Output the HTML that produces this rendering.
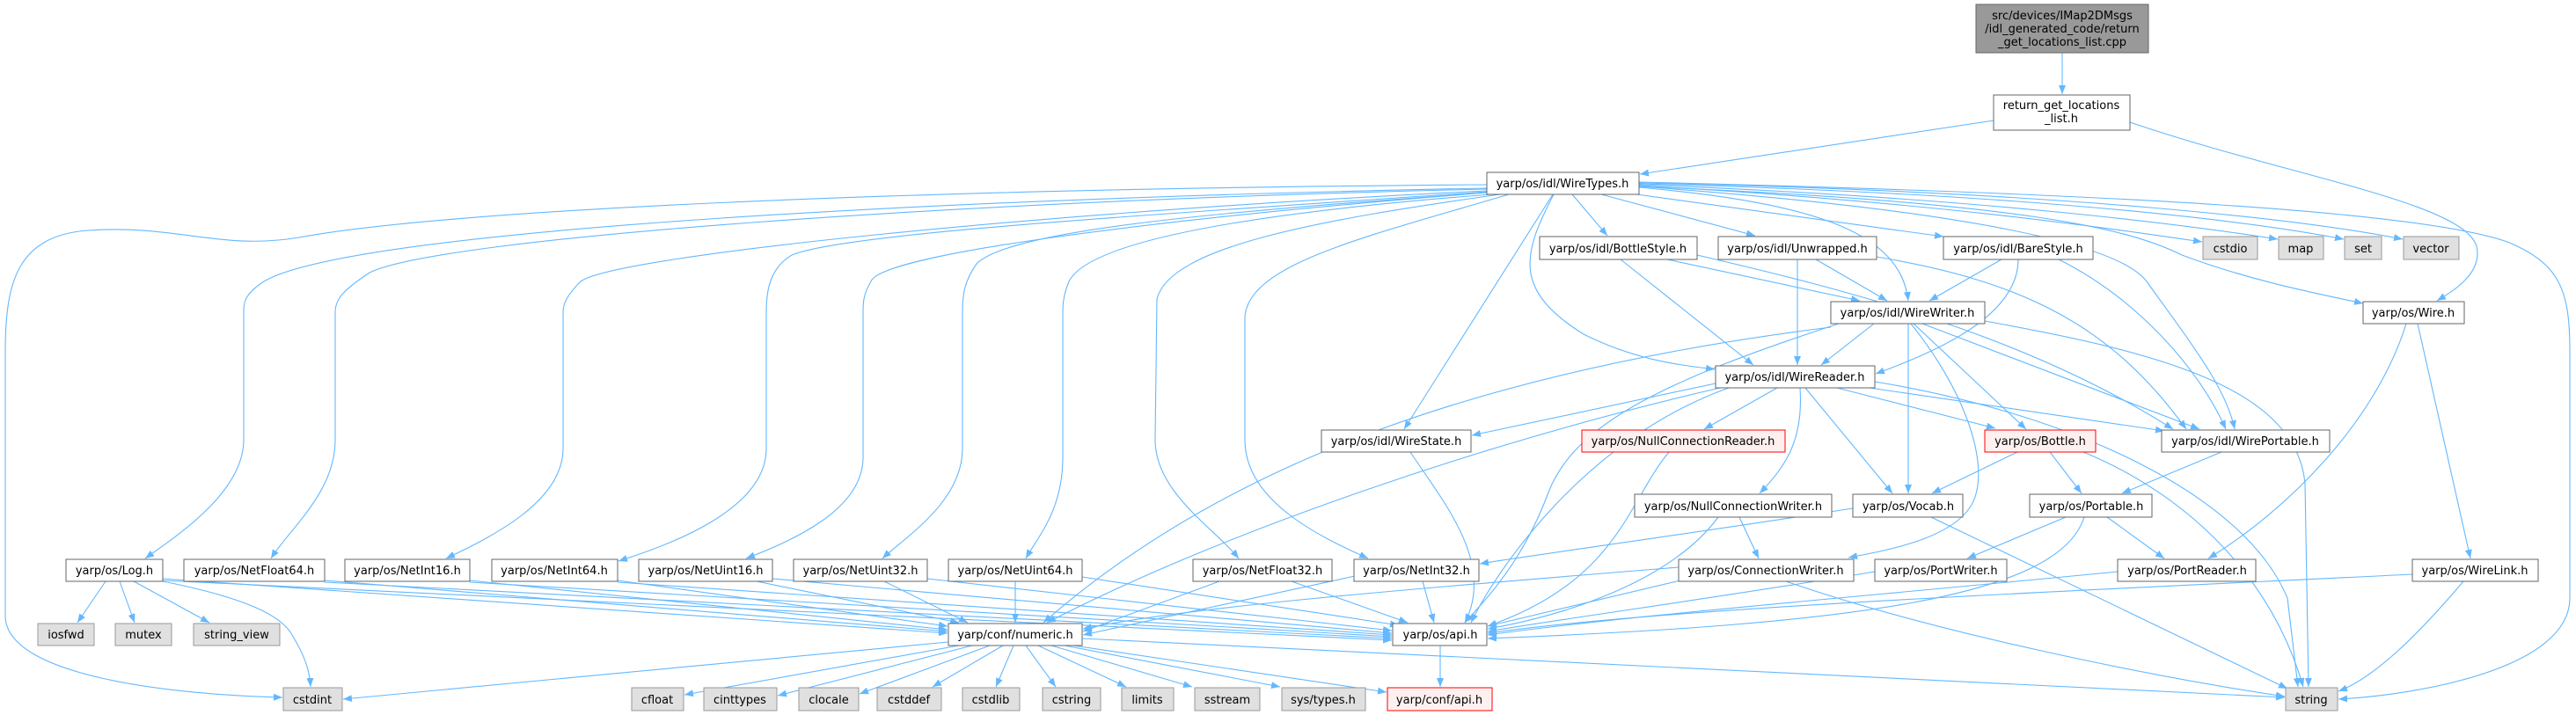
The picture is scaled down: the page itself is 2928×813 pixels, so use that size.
<!DOCTYPE html>
<html><head><meta charset="utf-8"><style>
html,body{margin:0;padding:0;background:#fff;}
svg{display:block;}
text{font-family:"DejaVu Sans","Liberation Sans",sans-serif;font-size:13px;fill:#000;text-anchor:middle;}
.e{fill:none;stroke:#63b8ff;stroke-width:1.1;marker-end:url(#a);}
.n{fill:#fff;stroke:#666;stroke-width:1;}
.g{fill:#e0e0e0;stroke:#999;stroke-width:1;}
.r{fill:#fff0f0;stroke:#f00;stroke-width:1;}
.t{fill:#999;stroke:#666;stroke-width:1;}
</style></head><body>
<svg width="2928" height="813" viewBox="0 0 2928 813" xmlns="http://www.w3.org/2000/svg">
<defs><marker id="a" markerUnits="userSpaceOnUse" markerWidth="11" markerHeight="8" refX="10" refY="4" orient="auto"><path d="M0,0 L10,4 L0,8 z" fill="#63b8ff"/></marker></defs>
<g>
<path class="e" d="M2344,60 L2344,107"/>
<path class="e" d="M2266,137 L1864,198"/>
<path class="e" d="M2421,139 C2600,200 2800,230 2815,280 C2822,310 2790,330 2770,342"/>
<path class="e" d="M1690,210 C1000,215 500,240 340,270 C250,285 200,255 100,262 C20,268 6,320 6,400 L6,700 C6,770 200,790 321,793"/>
<path class="e" d="M1690,214 C1100,225 400,260 300,320 C277,335 277,345 277,355 L277,500 C277,560 200,610 165,635"/>
<path class="e" d="M1690,215 C1100,228 500,270 420,310 C390,330 381,340 381,355 L381,500 C381,560 330,600 308,635"/>
<path class="e" d="M1690,217 C1200,240 700,290 660,320 C645,335 640,345 640,355 L640,510 C640,570 560,610 507,635"/>
<path class="e" d="M1690,218 C1300,245 960,265 900,290 C875,305 871,330 871,355 L871,510 C871,580 760,620 703,638"/>
<path class="e" d="M1690,219 C1300,250 1000,290 990,320 C981,335 981,345 981,355 L981,520 C981,580 900,615 848,635"/>
<path class="e" d="M1690,219 C1400,240 1150,260 1110,300 C1096,320 1094,335 1094,355 L1094,510 C1094,570 1030,610 1003,635"/>
<path class="e" d="M1695,221 C1450,240 1240,270 1215,320 C1209,335 1208,345 1208,355 L1208,520 C1208,580 1180,610 1166,635"/>
<path class="e" d="M1705,221 C1500,250 1330,280 1315,340 L1313,500 C1313,560 1380,600 1408,635"/>
<path class="e" d="M1715,221 C1550,270 1420,300 1415,360 L1415,500 C1415,570 1500,610 1555,635"/>
<path class="e" d="M1765,221 L1596,488"/>
<path class="e" d="M1766,221 C1730,290 1720,330 1800,380 C1860,410 1910,415 1949,420"/>
<path class="e" d="M1787,221 L1827,268"/>
<path class="e" d="M1820,221 L1995,268"/>
<path class="e" d="M1860,221 L2209,269"/>
<path class="e" d="M1863,213 C2050,230 2160,260 2169,342"/>
<path class="e" d="M1863,212 C2250,240 2410,280 2440,320 C2490,390 2530,440 2540,488"/>
<path class="e" d="M1863,211 C2200,230 2400,260 2503,275"/>
<path class="e" d="M1863,210 C2250,225 2480,255 2589,272"/>
<path class="e" d="M1863,209 C2300,220 2550,250 2664,272"/>
<path class="e" d="M1863,208 C2350,218 2620,250 2731,272"/>
<path class="e" d="M1863,212 C2300,230 2420,260 2480,290 C2560,320 2640,335 2686,345"/>
<path class="e" d="M1863,207 C2400,220 2750,240 2850,275 C2910,300 2921,330 2921,400 L2921,680 C2921,760 2750,790 2658,795"/>
<path class="e" d="M1842,295 L1993,415"/>
<path class="e" d="M1895,295 L2114,342"/>
<path class="e" d="M1929,290 C2100,330 2300,380 2470,488"/>
<path class="e" d="M2043,295 L2043,415"/>
<path class="e" d="M2064,295 L2145,342"/>
<path class="e" d="M2133,292 C2300,320 2400,370 2485,488"/>
<path class="e" d="M2275,295 L2193,342"/>
<path class="e" d="M2294,295 C2294,360 2200,400 2132,425"/>
<path class="e" d="M2340,295 C2430,340 2500,420 2530,488"/>
<path class="e" d="M2130,368 L2070,415"/>
<path class="e" d="M2169,368 L2169,561"/>
<path class="e" d="M2175,368 L2303,488"/>
<path class="e" d="M2185,368 L2500,488"/>
<path class="e" d="M2172,368 C2230,440 2260,520 2245,565 C2230,610 2150,625 2101,634"/>
<path class="e" d="M2256,365 C2450,400 2610,440 2620,550 L2624,781"/>
<path class="e" d="M2081,372 C1700,420 1400,520 1186,708"/>
<path class="e" d="M2090,368 C1900,430 1790,480 1760,560 C1730,640 1690,680 1665,708"/>
<path class="e" d="M1950,436 L1673,495"/>
<path class="e" d="M2020,441 L1937,488"/>
<path class="e" d="M2046,441 C2050,500 2030,530 2000,561"/>
<path class="e" d="M2052,441 L2151,561"/>
<path class="e" d="M2088,441 L2268,487"/>
<path class="e" d="M2125,441 L2460,490"/>
<path class="e" d="M2131,434 C2350,470 2550,560 2600,680 L2612,781"/>
<path class="e" d="M1955,441 C1700,500 1400,600 1190,708"/>
<path class="e" d="M1965,441 C1800,500 1700,650 1672,708"/>
<path class="e" d="M2735,368 C2700,480 2600,580 2510,635"/>
<path class="e" d="M2748,368 L2808,635"/>
<path class="e" d="M2742,653 C2400,670 1900,690 1691,720"/>
<path class="e" d="M2800,661 C2750,720 2700,770 2658,786"/>
<path class="e" d="M1603,514 C1640,570 1700,640 1665,708"/>
<path class="e" d="M1897,514 C1850,570 1840,660 1691,712"/>
<path class="e" d="M1977,588 L1999,635"/>
<path class="e" d="M1953,588 C1900,660 1780,700 1691,715"/>
<path class="e" d="M2106,578 C1900,610 1750,630 1682,641"/>
<path class="e" d="M2195,588 L2600,783"/>
<path class="e" d="M2293,514 L2196,561"/>
<path class="e" d="M2330,514 L2366,561"/>
<path class="e" d="M2368,514 C2480,560 2580,650 2618,781"/>
<path class="e" d="M2525,514 L2412,561"/>
<path class="e" d="M2348,588 L2236,635"/>
<path class="e" d="M2395,588 L2460,635"/>
<path class="e" d="M2369,588 C2340,680 2100,710 1691,726"/>
<path class="e" d="M2131,650 C1950,680 1800,700 1691,718"/>
<path class="e" d="M2407,650 C2100,680 1850,700 1691,722"/>
<path class="e" d="M1910,660 L1691,712"/>
<path class="e" d="M1908,645 C1600,670 1350,690 1231,715"/>
<path class="e" d="M2030,661 C2200,720 2450,770 2597,792"/>
<path class="e" d="M1540,655 L1231,722"/>
<path class="e" d="M1617,661 L1630,708"/>
<path class="e" d="M1386,661 L1231,718"/>
<path class="e" d="M1468,661 L1600,708"/>
<path class="e" d="M1154,661 L1154,708"/>
<path class="e" d="M1230,656 L1590,711"/>
<path class="e" d="M1005,661 L1100,708"/>
<path class="e" d="M1054,658 L1582,717"/>
<path class="e" d="M860,661 L1090,708"/>
<path class="e" d="M878,658 L1582,720"/>
<path class="e" d="M702,660 L1077,712"/>
<path class="e" d="M702,662 L1582,722"/>
<path class="e" d="M534,660 L1077,716"/>
<path class="e" d="M534,662 L1582,724"/>
<path class="e" d="M369,660 L1077,718"/>
<path class="e" d="M369,662 L1582,726"/>
<path class="e" d="M185,658 L1077,720"/>
<path class="e" d="M185,660 L1582,728"/>
<path class="e" d="M120,661 L88,708"/>
<path class="e" d="M136,661 L153,708"/>
<path class="e" d="M152,661 L238,708"/>
<path class="e" d="M185,661 C280,680 320,700 332,722 C346,745 352,762 353,781"/>
<path class="e" d="M1078,730 L390,795"/>
<path class="e" d="M1090,734 L778,790"/>
<path class="e" d="M1105,734 L884,791"/>
<path class="e" d="M1125,734 L977,789"/>
<path class="e" d="M1140,734 L1060,781"/>
<path class="e" d="M1152,734 L1132,781"/>
<path class="e" d="M1166,734 L1200,781"/>
<path class="e" d="M1180,734 L1280,781"/>
<path class="e" d="M1195,734 L1355,781"/>
<path class="e" d="M1210,734 L1455,781"/>
<path class="e" d="M1220,734 L1576,787"/>
<path class="e" d="M1230,726 L2597,793"/>
<path class="e" d="M1637,734 L1637,781"/>
</g>
<g>
<rect class="t" x="2246" y="5" width="196" height="55"/>
<text x="2344" y="22">src/devices/IMap2DMsgs</text>
<text x="2344" y="37">/idl_generated_code/return</text>
<text x="2344" y="52">_get_locations_list.cpp</text>
<rect class="n" x="2266" y="108" width="155" height="40"/>
<text x="2343" y="124">return_get_locations</text>
<text x="2343" y="139">_list.h</text>
<rect class="n" x="1690" y="196" width="173" height="25"/><text x="1776" y="213">yarp/os/idl/WireTypes.h</text>
<rect class="n" x="1750" y="269" width="179" height="26"/><text x="1839" y="287">yarp/os/idl/BottleStyle.h</text>
<rect class="n" x="1953" y="269" width="180" height="26"/><text x="2043" y="287">yarp/os/idl/Unwrapped.h</text>
<rect class="n" x="2209" y="269" width="170" height="26"/><text x="2294" y="287">yarp/os/idl/BareStyle.h</text>
<rect class="g" x="2504" y="269" width="62" height="26"/><text x="2535" y="287">cstdio</text>
<rect class="g" x="2590" y="269" width="51" height="26"/><text x="2615" y="287">map</text>
<rect class="g" x="2665" y="269" width="42" height="26"/><text x="2686" y="287">set</text>
<rect class="g" x="2732" y="269" width="63" height="26"/><text x="2763" y="287">vector</text>
<rect class="n" x="2081" y="343" width="175" height="25"/><text x="2168" y="360">yarp/os/idl/WireWriter.h</text>
<rect class="n" x="2686" y="343" width="115" height="25"/><text x="2743" y="360">yarp/os/Wire.h</text>
<rect class="n" x="1950" y="416" width="181" height="25"/><text x="2040" y="433">yarp/os/idl/WireReader.h</text>
<rect class="n" x="1502" y="489" width="170" height="25"/><text x="1587" y="506">yarp/os/idl/WireState.h</text>
<rect class="r" x="1798" y="489" width="231" height="25"/><text x="1913" y="506">yarp/os/NullConnectionReader.h</text>
<rect class="r" x="2256" y="489" width="126" height="25"/><text x="2319" y="506">yarp/os/Bottle.h</text>
<rect class="n" x="2457" y="489" width="191" height="25"/><text x="2552" y="506">yarp/os/idl/WirePortable.h</text>
<rect class="n" x="1858" y="562" width="224" height="26"/><text x="1970" y="580">yarp/os/NullConnectionWriter.h</text>
<rect class="n" x="2106" y="562" width="125" height="26"/><text x="2169" y="580">yarp/os/Vocab.h</text>
<rect class="n" x="2307" y="562" width="139" height="26"/><text x="2377" y="580">yarp/os/Portable.h</text>
<rect class="n" x="75" y="636" width="110" height="25"/><text x="130" y="653">yarp/os/Log.h</text>
<rect class="n" x="209" y="636" width="160" height="25"/><text x="289" y="653">yarp/os/NetFloat64.h</text>
<rect class="n" x="392" y="636" width="142" height="25"/><text x="463" y="653">yarp/os/NetInt16.h</text>
<rect class="n" x="559" y="636" width="143" height="25"/><text x="630" y="653">yarp/os/NetInt64.h</text>
<rect class="n" x="726" y="636" width="152" height="25"/><text x="802" y="653">yarp/os/NetUint16.h</text>
<rect class="n" x="902" y="636" width="152" height="25"/><text x="978" y="653">yarp/os/NetUint32.h</text>
<rect class="n" x="1078" y="636" width="152" height="25"/><text x="1154" y="653">yarp/os/NetUint64.h</text>
<rect class="n" x="1356" y="636" width="158" height="25"/><text x="1435" y="653">yarp/os/NetFloat32.h</text>
<rect class="n" x="1539" y="636" width="142" height="25"/><text x="1610" y="653">yarp/os/NetInt32.h</text>
<rect class="n" x="1908" y="636" width="199" height="25"/><text x="2007" y="653">yarp/os/ConnectionWriter.h</text>
<rect class="n" x="2131" y="636" width="150" height="25"/><text x="2206" y="653">yarp/os/PortWriter.h</text>
<rect class="n" x="2407" y="636" width="157" height="25"/><text x="2486" y="653">yarp/os/PortReader.h</text>
<rect class="n" x="2742" y="636" width="143" height="25"/><text x="2813" y="653">yarp/os/WireLink.h</text>
<rect class="g" x="43" y="709" width="64" height="25"/><text x="75" y="726">iosfwd</text>
<rect class="g" x="131" y="709" width="64" height="25"/><text x="163" y="726">mutex</text>
<rect class="g" x="220" y="709" width="98" height="25"/><text x="269" y="726">string_view</text>
<rect class="n" x="1078" y="709" width="152" height="25"/><text x="1154" y="726">yarp/conf/numeric.h</text>
<rect class="n" x="1583" y="709" width="107" height="25"/><text x="1637" y="726">yarp/os/api.h</text>
<rect class="g" x="322" y="782" width="67" height="26"/><text x="355" y="800">cstdint</text>
<rect class="g" x="718" y="782" width="59" height="26"/><text x="747" y="800">cfloat</text>
<rect class="g" x="800" y="782" width="83" height="26"/><text x="841" y="800">cinttypes</text>
<rect class="g" x="908" y="782" width="68" height="26"/><text x="942" y="800">clocale</text>
<rect class="g" x="997" y="782" width="73" height="26"/><text x="1033" y="800">cstddef</text>
<rect class="g" x="1094" y="782" width="65" height="26"/><text x="1126" y="800">cstdlib</text>
<rect class="g" x="1185" y="782" width="66" height="26"/><text x="1218" y="800">cstring</text>
<rect class="g" x="1275" y="782" width="59" height="26"/><text x="1304" y="800">limits</text>
<rect class="g" x="1358" y="782" width="74" height="26"/><text x="1395" y="800">sstream</text>
<rect class="g" x="1457" y="782" width="95" height="26"/><text x="1504" y="800">sys/types.h</text>
<rect class="r" x="1577" y="782" width="119" height="26"/><text x="1636" y="800">yarp/conf/api.h</text>
<rect class="g" x="2598" y="782" width="59" height="26"/><text x="2627" y="800">string</text>
</g>
</svg>
</body></html>
